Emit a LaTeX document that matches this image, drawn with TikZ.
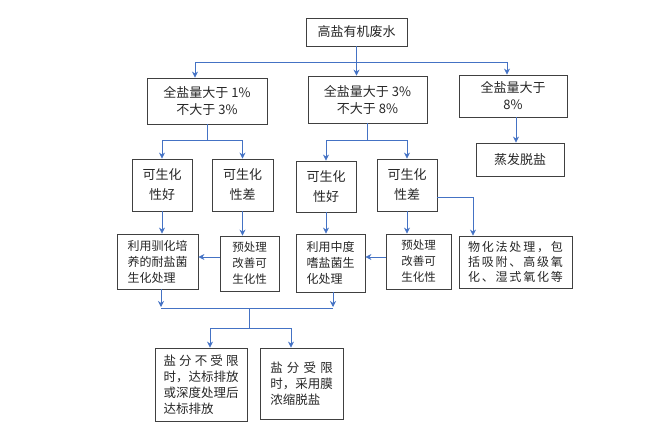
\documentclass[tikz,border=0pt]{standalone}
\usepackage{fontspec}
\newfontfamily\cjk{Noto Sans CJK SC}
\newfontfamily\cjkwide[LetterSpace=15]{Noto Sans CJK SC}
\usetikzlibrary{arrows.meta,calc}
\definecolor{linkblue}{RGB}{68,114,196}
\definecolor{boxgray}{RGB}{64,64,64}
\def\spreadline[#1]#2{\makebox[#1][s]{#2}}
\tikzset{
	cbox/.style={draw=boxgray, line width=0.8pt, inner sep=0pt, text=black!85, align=center, font=\cjk\fontsize{13}{17}\selectfont},
	bio/.style={cbox, minimum width=60pt, minimum height=52pt, font=\cjk\fontsize{13}{20}\selectfont},
	note/.style={cbox, align=left, font=\cjk\fontsize{12}{16}\selectfont},
	link/.style={draw=linkblue, line width=0.8pt, -{Stealth[length=6pt,width=6pt]}},
	plainlink/.style={draw=linkblue, line width=0.8pt},
}

\begin{document}
\begin{tikzpicture}[x=1pt,y=-1pt]
		%%%%% START %%%%%
		\useasboundingbox (0,0) rectangle (664,434);
		
		\node[cbox, minimum width=101pt, minimum height=28pt] (src) at (356.5,32) {高盐有机废水};
		
		\node[cbox, minimum width=120pt, minimum height=46pt] (lo) at (207,101) {全盐量大于 1\%\\不大于 3\%};
		\node[cbox, minimum width=119pt, minimum height=47pt] (mid) at (367.5,99.5) {全盐量大于 3\%\\不大于 8\%};
		\node[cbox, minimum width=108pt, minimum height=42pt] (hi) at (513,96) {全盐量大于\\8\%};
		\node[cbox, minimum width=88pt, minimum height=33pt] (evap) at (520,159.5) {蒸发脱盐};
		
		\node[bio] (lgood) at (162,185) {可生化\\性好};
		\node[bio, minimum width=61pt] (lbad) at (242.5,185) {可生化\\性差};
		\node[bio, minimum height=51pt] (mgood) at (326,186.5) {可生化\\性好};
		\node[bio] (mbad) at (407,185) {可生化\\性差};
		
		\node[note, minimum width=81pt, minimum height=55pt] (la) at (157.5,261.5) {利用驯化培\\养的耐盐菌\\生化处理};
		\node[cbox, minimum width=59pt, minimum height=55pt, font=\cjk\fontsize{11.5}{16}\selectfont] (lb) at (249.5,263.5) {预处理\\改善可\\生化性};
		\node[note, minimum width=69pt, minimum height=58pt] (ma) at (330.5,263) {利用中度\\嗜盐菌生\\化处理};
		\node[cbox, minimum width=65pt, minimum height=55pt, font=\cjk\fontsize{11.5}{16}\selectfont] (mb) at (418.5,261.5) {预处理\\改善可\\生化性};
		\node[note, minimum width=113pt, minimum height=52pt, font=\cjkwide\fontsize{12}{15}\selectfont] (wh) at (515.5,262) {物化法处理，包\\括吸附、高级氧\\化、湿式氧化等};
		
		\node[note, minimum width=92pt, minimum height=73pt, font=\cjk\fontsize{12.5}{16}\selectfont] (outa) at (201,384.5) {\spreadline[6em]{盐 分 不 受 限}\\时，达标排放\\或深度处理后\\达标排放};
		\node[note, minimum width=83pt, minimum height=71pt, font=\cjk\fontsize{12.5}{16}\selectfont] (outb) at (301.5,383.5) {\spreadline[5em]{盐 分 受 限}\\时，采用膜\\浓缩脱盐};
		
		% split by salt content
		\coordinate (t1) at (195,62);
		\coordinate (t3) at (507,62);
		\draw[plainlink] (t1) -- (t3);
		\draw[link] (t1) -- (t1 |- lo.north);
		\draw[link] (src.south) -- (src.south |- mid.north);
		\draw[link] (t3) -- (t3 |- hi.north);
		\draw[link] ($(hi.south)+(3,0)$) -- ($(hi.south |- evap.north)+(3,0)$);
		
		% split by biodegradability
		\coordinate (b1) at (207,140);
		\coordinate (b2) at (367.5,140);
		\draw[plainlink] (lo.south) -- (b1);
		\draw[link] (b1) -| (lgood.north);
		\draw[link] (b1) -| (lbad.north);
		\draw[plainlink] (mid.south) -- (b2);
		\draw[link] (b2) -| (mgood.north);
		\draw[link] (b2) -| (mbad.north);
		
		\draw[link] (lgood.south) -- (lgood.south |- la.north);
		\draw[link] (lbad.south) -- (lbad.south |- lb.north);
		\draw[link] (mgood.south) -- (mgood.south |- ma.north);
		\draw[link] (mbad.south) -- (mbad.south |- mb.north);
		\draw[link] ($(lb.west)+(0,-6.5)$) -- ($(la.east |- lb.west)+(0,-6.5)$);
		\draw[link] ($(mb.west)+(0,-4.5)$) -- ($(ma.east |- mb.west)+(0,-4.5)$);
		\draw[link] ($(mbad.east)+(0,12)$) -| ($(wh.north)+(-42.5,0)$);
		
		% merge and final treatment
		\coordinate (m1) at (249,307);
		\coordinate (m2) at (249,328);
		\coordinate (m2l) at (210,328);
		\coordinate (m2r) at (291,328);
		\draw[link] ($(la.south)+(3.5,0)$) -- ($(la.south |- m1)+(3.5,0)$);
		\draw[link] ($(ma.south)+(2.5,0)$) -- ($(ma.south |- m1)+(2.5,0)$);
		\draw[plainlink] ($(la.south |- m1)+(3.5,1)$) -- ($(ma.south |- m1)+(2.5,1)$);
		\draw[plainlink] ($(m1)+(0,1)$) -- (m2);
		\draw[plainlink] (m2l) -- (m2r);
		\draw[link] (m2l) -- (m2l |- outa.north);
		\draw[link] (m2r) -- (m2r |- outb.north);
		
		%%%%% END %%%%%
\end{tikzpicture}
\end{document}
